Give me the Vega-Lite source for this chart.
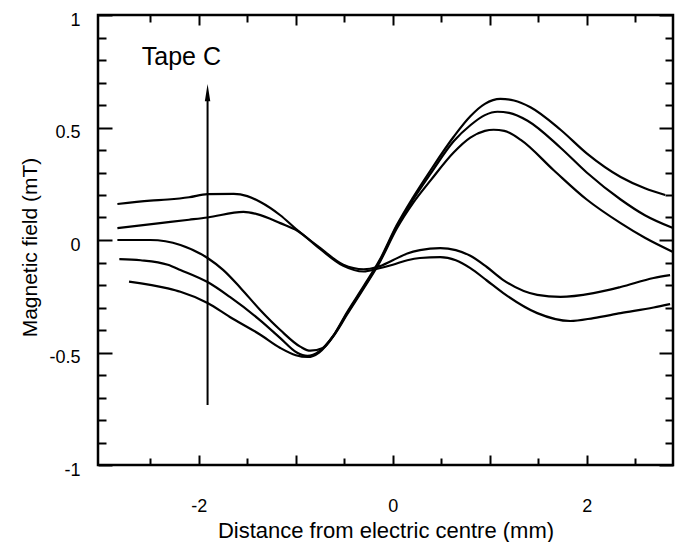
{
  "$schema": "https://vega.github.io/schema/vega-lite/v6.json",
  "autosize": {"type": "none"},
  "padding": {"left": 98, "top": 15, "right": 2, "bottom": 77},
  "width": 575,
  "height": 450,
  "background": "white",
  "config": {
    "view": {"stroke": "black", "strokeWidth": 2.5},
    "font": "Liberation Sans",
    "axis": {
      "grid": false,
      "domain": false,
      "tickColor": "black",
      "tickWidth": 2,
      "labelColor": "black",
      "labelFont": "Liberation Sans",
      "labelFontSize": 18,
      "titleColor": "black",
      "titleFont": "Liberation Sans",
      "titleFontWeight": "normal"
    }
  },
  "datasets": {
    "curves": [
      {"series": "A", "x": -2.84, "y": 0.16},
      {"series": "A", "x": -2.5, "y": 0.175},
      {"series": "A", "x": -2.32, "y": 0.18},
      {"series": "A", "x": -2.1, "y": 0.19},
      {"series": "A", "x": -1.91, "y": 0.204},
      {"series": "A", "x": -1.64, "y": 0.205},
      {"series": "A", "x": -1.5, "y": 0.195},
      {"series": "A", "x": -1.37, "y": 0.17},
      {"series": "A", "x": -1.16, "y": 0.11},
      {"series": "A", "x": -1.0, "y": 0.05},
      {"series": "A", "x": -0.75, "y": -0.035},
      {"series": "A", "x": -0.51, "y": -0.11},
      {"series": "A", "x": -0.3, "y": -0.13},
      {"series": "A", "x": -0.16, "y": -0.12},
      {"series": "A", "x": 0.0, "y": -0.09},
      {"series": "A", "x": 0.15, "y": -0.06},
      {"series": "A", "x": 0.28, "y": -0.045},
      {"series": "A", "x": 0.49, "y": -0.036},
      {"series": "A", "x": 0.65, "y": -0.045},
      {"series": "A", "x": 0.8, "y": -0.07},
      {"series": "A", "x": 0.97, "y": -0.12},
      {"series": "A", "x": 1.14, "y": -0.178},
      {"series": "A", "x": 1.49, "y": -0.244},
      {"series": "A", "x": 1.73, "y": -0.253},
      {"series": "A", "x": 2.07, "y": -0.236},
      {"series": "A", "x": 2.35, "y": -0.209},
      {"series": "A", "x": 2.69, "y": -0.169},
      {"series": "A", "x": 2.86, "y": -0.156},
      {"series": "B", "x": -2.84, "y": 0.053},
      {"series": "B", "x": -2.4, "y": 0.075},
      {"series": "B", "x": -2.1, "y": 0.09},
      {"series": "B", "x": -1.91, "y": 0.1},
      {"series": "B", "x": -1.54, "y": 0.125},
      {"series": "B", "x": -1.4, "y": 0.115},
      {"series": "B", "x": -1.16, "y": 0.075},
      {"series": "B", "x": -0.98, "y": 0.04},
      {"series": "B", "x": -0.75, "y": -0.04},
      {"series": "B", "x": -0.51, "y": -0.115},
      {"series": "B", "x": -0.3, "y": -0.14},
      {"series": "B", "x": -0.16, "y": -0.128},
      {"series": "B", "x": 0.0, "y": -0.11},
      {"series": "B", "x": 0.15, "y": -0.09},
      {"series": "B", "x": 0.28, "y": -0.08},
      {"series": "B", "x": 0.49, "y": -0.076},
      {"series": "B", "x": 0.65, "y": -0.09},
      {"series": "B", "x": 0.8, "y": -0.125},
      {"series": "B", "x": 0.97, "y": -0.18},
      {"series": "B", "x": 1.14, "y": -0.236},
      {"series": "B", "x": 1.49, "y": -0.325},
      {"series": "B", "x": 1.83, "y": -0.36},
      {"series": "B", "x": 2.07, "y": -0.347},
      {"series": "B", "x": 2.35, "y": -0.325},
      {"series": "B", "x": 2.69, "y": -0.3},
      {"series": "B", "x": 2.86, "y": -0.285},
      {"series": "C", "x": -2.84, "y": 0.0},
      {"series": "C", "x": -2.5, "y": 0.0},
      {"series": "C", "x": -2.19, "y": -0.022},
      {"series": "C", "x": -1.91, "y": -0.08},
      {"series": "C", "x": -1.75, "y": -0.133},
      {"series": "C", "x": -1.57, "y": -0.213},
      {"series": "C", "x": -1.37, "y": -0.31},
      {"series": "C", "x": -1.16, "y": -0.4},
      {"series": "C", "x": -0.95, "y": -0.475},
      {"series": "C", "x": -0.85, "y": -0.492},
      {"series": "C", "x": -0.72, "y": -0.48},
      {"series": "C", "x": -0.6, "y": -0.42},
      {"series": "C", "x": -0.47, "y": -0.33},
      {"series": "C", "x": -0.3, "y": -0.215},
      {"series": "C", "x": -0.13, "y": -0.095},
      {"series": "C", "x": 0.04, "y": 0.05},
      {"series": "C", "x": 0.21, "y": 0.165},
      {"series": "C", "x": 0.39, "y": 0.265},
      {"series": "C", "x": 0.63, "y": 0.39},
      {"series": "C", "x": 0.8, "y": 0.455},
      {"series": "C", "x": 0.95, "y": 0.485},
      {"series": "C", "x": 1.04, "y": 0.49},
      {"series": "C", "x": 1.15, "y": 0.485},
      {"series": "C", "x": 1.32, "y": 0.445},
      {"series": "C", "x": 1.66, "y": 0.31},
      {"series": "C", "x": 2.0, "y": 0.18},
      {"series": "C", "x": 2.35, "y": 0.075},
      {"series": "C", "x": 2.6, "y": 0.01},
      {"series": "C", "x": 2.89, "y": -0.053},
      {"series": "D", "x": -2.82, "y": -0.085},
      {"series": "D", "x": -2.6, "y": -0.09},
      {"series": "D", "x": -2.32, "y": -0.11},
      {"series": "D", "x": -2.19, "y": -0.133},
      {"series": "D", "x": -1.91, "y": -0.187},
      {"series": "D", "x": -1.68, "y": -0.253},
      {"series": "D", "x": -1.37, "y": -0.356},
      {"series": "D", "x": -1.16, "y": -0.436},
      {"series": "D", "x": -0.99, "y": -0.5},
      {"series": "D", "x": -0.88, "y": -0.515},
      {"series": "D", "x": -0.76, "y": -0.495},
      {"series": "D", "x": -0.62, "y": -0.43},
      {"series": "D", "x": -0.47, "y": -0.325},
      {"series": "D", "x": -0.3, "y": -0.21},
      {"series": "D", "x": -0.13, "y": -0.09},
      {"series": "D", "x": 0.04, "y": 0.06},
      {"series": "D", "x": 0.21, "y": 0.18},
      {"series": "D", "x": 0.39, "y": 0.295},
      {"series": "D", "x": 0.63, "y": 0.44},
      {"series": "D", "x": 0.8, "y": 0.51},
      {"series": "D", "x": 0.95, "y": 0.555},
      {"series": "D", "x": 1.08, "y": 0.57},
      {"series": "D", "x": 1.2, "y": 0.565},
      {"series": "D", "x": 1.39, "y": 0.53},
      {"series": "D", "x": 1.73, "y": 0.41},
      {"series": "D", "x": 2.0, "y": 0.3},
      {"series": "D", "x": 2.35, "y": 0.18},
      {"series": "D", "x": 2.6, "y": 0.11},
      {"series": "D", "x": 2.89, "y": 0.053},
      {"series": "E", "x": -2.72, "y": -0.185},
      {"series": "E", "x": -2.32, "y": -0.215},
      {"series": "E", "x": -2.19, "y": -0.23},
      {"series": "E", "x": -1.91, "y": -0.28},
      {"series": "E", "x": -1.68, "y": -0.342},
      {"series": "E", "x": -1.37, "y": -0.42},
      {"series": "E", "x": -1.16, "y": -0.48},
      {"series": "E", "x": -1.0, "y": -0.512},
      {"series": "E", "x": -0.88, "y": -0.52},
      {"series": "E", "x": -0.76, "y": -0.5},
      {"series": "E", "x": -0.62, "y": -0.43},
      {"series": "E", "x": -0.47, "y": -0.32},
      {"series": "E", "x": -0.3, "y": -0.205},
      {"series": "E", "x": -0.13, "y": -0.085},
      {"series": "E", "x": 0.04, "y": 0.065},
      {"series": "E", "x": 0.21, "y": 0.19},
      {"series": "E", "x": 0.39, "y": 0.31},
      {"series": "E", "x": 0.63, "y": 0.46},
      {"series": "E", "x": 0.8, "y": 0.55},
      {"series": "E", "x": 0.95, "y": 0.605},
      {"series": "E", "x": 1.11, "y": 0.627},
      {"series": "E", "x": 1.25, "y": 0.62},
      {"series": "E", "x": 1.42, "y": 0.59},
      {"series": "E", "x": 1.73, "y": 0.49},
      {"series": "E", "x": 2.0, "y": 0.385},
      {"series": "E", "x": 2.35, "y": 0.28},
      {"series": "E", "x": 2.6, "y": 0.23},
      {"series": "E", "x": 2.81, "y": 0.2}
    ],
    "arrow": [{"x": -1.91, "y": -0.733, "y2": 0.64}],
    "head": [{"x": -1.91, "y": 0.655}],
    "label": [{"x": -2.18, "y": 0.813, "text": "Tape C"}]
  },
  "resolve": {"axis": {"x": "independent", "y": "independent"}},
  "layer": [
    {
      "data": {"name": "curves"},
      "mark": {"type": "line", "color": "black", "strokeWidth": 2.2, "interpolate": "monotone"},
      "encoding": {
        "x": {
          "field": "x", "type": "quantitative",
          "scale": {"domain": [-3.04, 2.89], "nice": false, "zero": false},
          "axis": {
            "orient": "bottom",
            "values": [-2, -1, 0, 1, 2],
            "tickSize": -10,
            "labelPadding": 42,
            "labelFontSize": 18,
            "labelExpr": "datum.value % 2 === 0 ? '' + datum.value : ''",
            "title": "Distance from electric centre (mm)",
            "titleFontSize": 22,
            "titleY": 72,
            "titleBaseline": "alphabetic"
          }
        },
        "y": {
          "field": "y", "type": "quantitative",
          "scale": {"domain": [-1, 1], "nice": false, "zero": false},
          "axis": {
            "orient": "left",
            "values": [-1, -0.5, 0, 0.5, 1],
            "tickSize": -14,
            "labelPadding": 32,
            "labelOffset": 5,
            "labelFontSize": 18,
            "labelExpr": "'' + datum.value",
            "title": "Magnetic field (mT)",
            "titleFontSize": 21,
            "titleX": -68,
            "titleY": 232,
            "titleAngle": -90,
            "titleAlign": "center",
            "titleBaseline": "middle"
          }
        },
        "detail": {"field": "series", "type": "nominal"}
      }
    },
    {
      "data": {"name": "arrow"},
      "mark": {"type": "rule", "color": "black", "strokeWidth": 2},
      "encoding": {
        "x": {
          "field": "x", "type": "quantitative",
          "axis": {"orient": "top", "values": [-2, -1, 0, 1, 2], "tickSize": -10, "labels": false, "title": null}
        },
        "y": {
          "field": "y", "type": "quantitative",
          "axis": {"orient": "right", "values": [-1, -0.5, 0, 0.5, 1], "tickSize": -14, "labels": false, "title": null}
        },
        "y2": {"field": "y2"}
      }
    },
    {
      "data": {"name": "head"},
      "mark": {"type": "point", "shape": "M0,-1L0.32,1L-0.32,1Z", "size": 290, "filled": true, "color": "black", "opacity": 1},
      "encoding": {
        "x": {
          "field": "x", "type": "quantitative",
          "axis": {"orient": "top", "values": [-2.5, -1.5, -0.5, 0.5, 1.5, 2.5], "tickSize": -7, "labels": false, "title": null}
        },
        "y": {
          "field": "y", "type": "quantitative",
          "axis": {"orient": "right", "values": [-0.9, -0.8, -0.7, -0.6, -0.4, -0.3, -0.2, -0.1, 0.1, 0.2, 0.3, 0.4, 0.6, 0.7, 0.8, 0.9], "tickSize": -8, "labels": false, "title": null}
        }
      }
    },
    {
      "data": {"name": "label"},
      "mark": {"type": "text", "font": "Liberation Sans", "fontSize": 25, "color": "black", "align": "center", "baseline": "middle"},
      "encoding": {
        "x": {
          "field": "x", "type": "quantitative",
          "axis": {"orient": "bottom", "values": [-2.5, -1.5, -0.5, 0.5, 1.5, 2.5], "tickSize": -7, "labels": false, "title": null}
        },
        "y": {
          "field": "y", "type": "quantitative",
          "axis": {"orient": "left", "values": [-0.9, -0.8, -0.7, -0.6, -0.4, -0.3, -0.2, -0.1, 0.1, 0.2, 0.3, 0.4, 0.6, 0.7, 0.8, 0.9], "tickSize": -8, "labels": false, "title": null}
        },
        "text": {"field": "text"}
      }
    }
  ]
}
